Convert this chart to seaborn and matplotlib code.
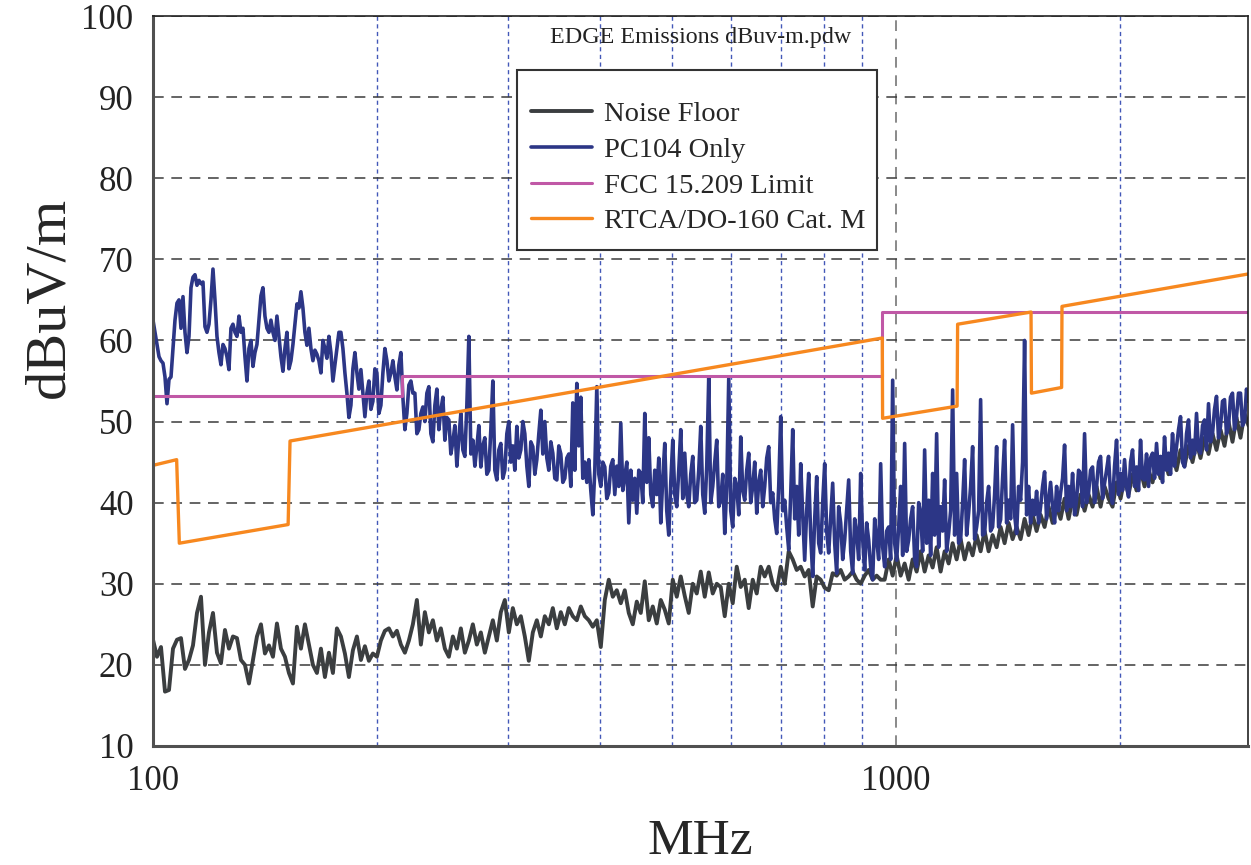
import numpy as np
import matplotlib
matplotlib.use('Agg')
import matplotlib.pyplot as plt
import seaborn as sns
from matplotlib.patches import Rectangle
from matplotlib.ticker import FixedLocator, NullFormatter, MultipleLocator

# analyser sweep grids (log spaced): noise floor every ~4 px, PC104 every ~2 px
nf_freq = np.geomspace(100, 2980, 275)
pc_freq = np.geomspace(100, 2980, 549)

# Noise floor trace, dBuV/m
noise_floor = [
    23.1, 21, 22.2, 16.7, 16.9, 22, 23.1, 23.3, 19.5, 20.6,
    22.4, 26.4, 28.4, 20, 24, 26.4, 21.5, 20.2, 24.3, 22,
    23.5, 23.3, 20.6, 20, 17.7, 20.6, 23.5, 25, 21.4, 22.4,
    21, 25.1, 22, 21, 19, 17.7, 24.7, 22, 25, 22.5,
    20, 19, 22, 18.5, 21.5, 19, 24.5, 23.5, 21.4, 18.5,
    21.8, 23.5, 20.6, 22.3, 20.5, 21.4, 21, 23, 24.2, 24.5,
    23.5, 24.2, 22.5, 21.5, 23, 25, 28, 22.5, 26.5, 24,
    25.5, 23, 24.5, 22, 21, 23.5, 22, 24.5, 21.5, 23,
    25, 22.5, 24, 21.5, 23.5, 25.5, 23, 26.5, 28, 24,
    27, 25, 26, 23.5, 20.5, 24, 25.5, 23.5, 26, 25,
    27, 24.5, 26.5, 25, 27, 26, 25.5, 27.2, 26, 25.5,
    24.7, 25.5, 22.2, 28, 30.5, 28.4, 29.2, 27.6, 29.2, 26.4,
    25, 27.8, 26.4, 30.3, 25.5, 27.2, 25.1, 28, 26.8, 25.1,
    30.5, 28.4, 30.9, 28.5, 26.4, 30, 28.8, 31.5, 28.4, 31.4,
    28.8, 30, 29.6, 26, 30, 27.6, 32.1, 29.6, 30.5, 27,
    30.5, 28.8, 32.1, 30.9, 32.1, 30, 29.2, 32.1, 30, 34,
    33, 31.7, 32.1, 30.9, 31.7, 27.2, 30.9, 30.5, 29.5, 29.2,
    31.3, 31, 31.7, 30.5, 30.9, 31.5, 30.5, 30, 31, 31.7,
    30.5, 31, 30.5,
    30.5, 33, 31, 33.5, 31, 32.5, 30.5, 33, 31.5, 34,
    31.5, 33.5, 32, 34.5, 31.5, 34, 32.5, 35, 33, 35.5,
    33, 35, 33.5, 36, 34, 36.5, 34, 36, 34.5, 37,
    35, 37.5, 35.5, 37, 35.5, 38, 36, 38.5, 36.5, 38.5,
    37, 39.5, 37.5, 39.5, 38, 40.5, 38, 40.5, 38.5, 41,
    39, 41, 39.5, 42, 39.5, 42, 40.5, 39.5, 42.5, 40.5,
    43, 41, 43.5, 41.5, 44, 42, 44, 42.5, 45, 43,
    45.5, 43.5, 46, 44, 46.5, 44.5, 47, 45, 47.5, 45.5,
    48, 46, 48.5, 46.5, 49, 47, 50, 47.5, 50.5, 48,
    51, 49.5,
]

# PC104 only trace, dBuV/m
pc104 = [
    62.5, 61, 59.5, 58, 57.5, 57.2, 55.5, 52.2, 55.2, 55.5,
    59, 62.5, 64.6, 65, 61.5, 65.4, 61, 58.5, 60.5, 66.5,
    67.8, 68.1, 66.8, 67.4, 67, 67.2, 61.7, 61, 62, 65,
    68.8, 65, 60.5, 58.5, 57, 59.5, 59, 58, 56.4, 61.5,
    62, 61, 60.5, 63, 61, 61.5, 58, 55, 59, 60,
    56.8, 58.5, 59.5, 62.5, 65.5, 66.5, 63, 61.5, 61, 62.5,
    61, 60, 63, 60.5, 58, 56.2, 59, 61, 56.5, 57.5,
    59.5, 62, 64.5, 64, 66, 64, 61, 59.4, 61.5, 59,
    57.5, 58.8, 58.3, 57.5, 56, 60, 59, 57.8, 60.5, 58.5,
    55, 57, 59, 61, 61, 59, 56, 53.5, 50.5, 52,
    56.5, 58.5, 56, 54, 56.4, 53.5, 50.6, 53.5, 55, 51.5,
    52.5, 56.5, 56, 51, 52, 56, 59, 57.5, 55, 56,
    57.5, 55.5, 53.9, 57, 58.5, 53, 49, 51, 54.5, 55,
    53.5, 53.5, 48.5, 49, 51, 51.8, 50, 53.5, 54.3, 48.5,
    47.5, 52, 54, 49, 51.4, 53, 47.7, 50.5, 50.2, 46,
    47.5, 49.5, 44.5, 48, 51, 46.5, 45.7, 52, 60.5, 46,
    47.7, 44.5, 46.9, 49.5, 44.4, 47, 48, 43.5, 44, 49,
    55, 44, 42.8, 46.5, 47.3, 43, 44, 48.5, 50, 45,
    47, 44, 49.4, 45.5, 46.5, 50, 48.5, 44.5, 42, 47.5,
    46.9, 43.5, 45.3, 48.5, 51.4, 46, 50, 45.5, 44, 47.5,
    46.1, 43, 42.8, 47, 46, 42.5, 43, 45.5, 46, 42,
    52.3, 44, 54.7, 47, 53, 43, 45, 42.5, 45.3, 41.5,
    38.5, 44, 54.3, 43.5, 42, 45, 44.4, 40.5, 41.2, 44.5,
    45.3, 41, 44.5, 42, 49.8, 41.5, 43.2, 45, 37.5, 44,
    40.3, 43, 38.7, 44, 43.6, 40, 51, 42.5, 48, 41,
    39.5, 44, 41, 45.5, 37.5, 43, 47.3, 39, 36, 42.5,
    47.7, 41, 39.5, 44, 49, 40.5, 46.1, 41, 39.5, 43.5,
    45.7, 40, 40.3, 44, 49.4, 41, 38.7, 44.5, 55.5, 40,
    42, 45, 47.7, 39.5, 40.3, 43.5, 36.2, 42, 55.3, 39,
    37, 43, 42, 38.5, 48.1, 41.5, 40.3, 44, 46.1, 40,
    42, 45, 38.7, 42.5, 44, 39.5, 42, 45.5, 46.9, 40,
    41.2, 38, 36.2, 42, 50.6, 39, 40.3, 37, 34.2, 41,
    49, 38, 42, 36, 44.8, 38.5, 32.9, 39, 43.6, 36,
    30.9, 38, 43.2, 35, 33.8, 40, 44.8, 36.5, 33.8, 38,
    42.4, 35, 31.3, 39.5, 37.5, 33, 35.4, 39, 42.8, 34,
    31.3, 38, 36.2, 33, 43.6, 35.5, 31.7, 37.5, 35.4, 32,
    30.5, 38, 35.4, 33, 44.8, 34.5, 32.1, 36.5, 37, 33,
    55.1, 35, 32.9, 37, 42, 33.5, 47.3, 34, 35.4, 38,
    39.5, 33, 32.1, 40, 38.7, 34, 46.5, 35, 40.3, 33.5,
    43.6, 36, 48.5, 34.5, 39.5, 36.5, 42.8, 34, 36.2, 39,
    53.9, 36, 43.6, 35, 35.4, 40, 45.3, 36, 38.7, 42,
    46.9, 35.5, 37, 39, 52.7, 36, 36.2, 40, 42, 36.5,
    37, 41, 46.9, 37, 37.9, 43, 47.7, 37.5, 40.3, 38,
    49.6, 38.5, 36.2, 42, 40.3, 45, 60, 38.5, 42, 37.5,
    40.3, 38.5, 41.4, 37.5, 39.5, 42, 43.8, 38, 40.3, 42.5,
    39.5, 37.5, 42, 39, 41.2, 43, 47.1, 39, 42, 39.5,
    43.6, 38.5, 40.3, 44, 43.6, 39.5, 48.5, 40, 41.2, 44,
    44.4, 40, 42, 45, 45.7, 40.5, 42.4, 44, 45.7, 41,
    39.9, 44.5, 47.7, 41, 43.6, 41.5, 45.3, 42, 40.7, 45,
    46.5, 42, 44.4, 41.5, 47.7, 43, 42.8, 46, 42, 45.5,
    46.1, 43, 47.3, 43.5, 45.7, 42.5, 48.1, 44, 46.1, 43.5,
    48.5, 44.5, 46.9, 49, 50.6, 45, 44.4, 48.5, 50.2, 45.5,
    47.7, 46, 51, 46.5, 46.1, 49.5, 50.2, 46.5, 52.2, 47.5,
    48.5, 51.5, 53.1, 48, 49.4, 52.5, 52.7, 48.5, 49.4, 53,
    53.5, 49, 50.6, 53.5, 53.5, 49.5, 50, 54, 52.5,
]

# limit lines (corner points)
fcc_freq = [100, 216.5, 216.5, 958, 958, 2980]
fcc_level = [53.1, 53.1, 55.6, 55.6, 63.5, 63.5]

rtca_freq = [100, 107.6, 108.5, 152, 152.9, 958, 959, 1208, 1210, 1519, 1521, 1670, 1672, 2980]
rtca_level = [44.6, 45.3, 35.0, 37.3, 47.6, 60.3, 50.4, 51.9, 62.0, 63.5, 53.5, 54.2, 64.2, 68.2]

assert len(noise_floor) == len(nf_freq) and len(pc104) == len(pc_freq)

sns.set_style('white')
plt.rcParams['font.family'] = ['Liberation Serif', 'DejaVu Serif']

fig = plt.figure(figsize=(12.51, 8.65), dpi=100)
ax = fig.add_axes([0.1223, 0.1376, 0.8757, 0.8439])

sns.lineplot(x=nf_freq, y=noise_floor, ax=ax, color='#3b3e40', lw=2.8,
             label='Noise Floor', sort=False, estimator=None)
sns.lineplot(x=pc_freq, y=pc104, ax=ax, color='#2c3686', lw=2.6,
             label='PC104 Only', sort=False, estimator=None)
sns.lineplot(x=fcc_freq, y=fcc_level, ax=ax, color='#c058a6', lw=2.2,
             label='FCC 15.209 Limit', sort=False, estimator=None)
sns.lineplot(x=rtca_freq, y=rtca_level, ax=ax, color='#f7881f', lw=2.4,
             label='RTCA/DO-160 Cat. M', sort=False, estimator=None)

ax.set_xscale('log')
ax.set_xlim(100, 2980)
ax.set_ylim(10, 100)

ax.set_xticks([100, 1000])
ax.set_xticklabels(['100', '1000'])
ax.xaxis.set_minor_locator(FixedLocator([200, 300, 400, 500, 600, 700, 800, 900, 2000]))
ax.xaxis.set_minor_formatter(NullFormatter())
ax.set_yticks(range(10, 101, 10))
ax.yaxis.set_minor_locator(MultipleLocator(5))

ax.tick_params(axis='both', which='major', labelsize=25, labelcolor='#222222')
ax.tick_params(axis='y', which='major', direction='in', length=16, width=1.2, color='#444444', pad=14)
ax.tick_params(axis='y', which='minor', direction='in', length=10, width=1.2, color='#444444')
ax.tick_params(axis='x', which='both', direction='in', length=11, width=1.2, color='#444444', pad=14)

ax.set_axisbelow(True)
ax.grid(True, which='major', axis='y', color='#3a3a3a', lw=1.1, ls=(0, (7, 5)))
ax.grid(True, which='major', axis='x', color='#6a6a6a', lw=1.1, ls=(0, (7, 5)))
ax.grid(True, which='minor', axis='x', color='#4358b8', lw=1.0, ls=(0, (3, 2.5)))

for s in ['left', 'bottom']:
    ax.spines[s].set_color('#505050')
    ax.spines[s].set_linewidth(2.2)
for s in ['top', 'right']:
    ax.spines[s].set_color('#222222')
    ax.spines[s].set_linewidth(1.2)

# legend entries without frame, box drawn separately to match the original padding
leg = ax.legend(loc='upper left', bbox_to_anchor=(0.345, 0.883), borderaxespad=0,
                borderpad=0, fontsize=20.5, handlelength=2.15, handletextpad=0.43,
                labelspacing=0.34, frameon=False)
ax.add_patch(Rectangle((0.3323, 0.6795), 0.3286, 0.2466, transform=ax.transAxes,
                       facecolor='white', edgecolor='#333333', lw=1.5, zorder=4))
leg.set_zorder(5)

ax.set_xlabel('MHz', fontsize=37)
ax.xaxis.set_label_coords(0.5, -0.099)
ax.set_ylabel('dBuV/m', fontsize=42)
ax.yaxis.set_label_coords(-0.071, 0.615)

ax.text(0.5, 0.970, 'EDGE Emissions dBuv-m.pdw', transform=ax.transAxes,
        ha='center', va='center', fontsize=17.3, color='#222222')

fig.savefig('out.png', dpi=100)
